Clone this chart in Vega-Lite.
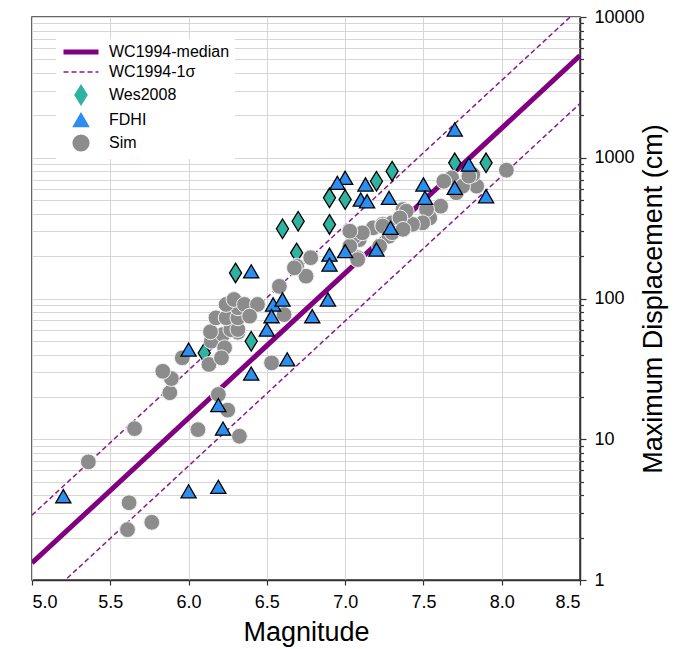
{
  "$schema": "https://vega.github.io/schema/vega-lite/v6.json",
  "width": 548,
  "height": 563,
  "autosize": {"type": "none"},
  "padding": {"left": 32, "top": 17, "right": 99, "bottom": 69},
  "background": "white",
  "config": {
    "font": "Liberation Sans",
    "view": {"stroke": "#333333", "strokeWidth": 1.5},
    "axis": {
      "gridColor": "#d6d6d6",
      "gridWidth": 1,
      "domainColor": "#333333",
      "domainWidth": 1.5,
      "tickColor": "#333333",
      "tickWidth": 1.2,
      "labelColor": "black",
      "titleColor": "black",
      "titleFontWeight": "normal",
      "labelFont": "Liberation Sans",
      "titleFont": "Liberation Sans"
    }
  },
  "datasets": {
    "lines": [
      {"series": "WC1994-median", "line": "median", "M": 5.0, "D": 1.32},
      {"series": "WC1994-median", "line": "median", "M": 8.5, "D": 5309},
      {"series": "WC1994-1σ", "line": "upper", "M": 5.0, "D": 2.89},
      {"series": "WC1994-1σ", "line": "upper", "M": 8.5, "D": 11614},
      {"series": "WC1994-1σ", "line": "lower", "M": 5.0, "D": 0.604},
      {"series": "WC1994-1σ", "line": "lower", "M": 8.5, "D": 2427}
    ],
    "pts": [
      {"series": "Wes2008", "M": 6.10, "D": 41},
      {"series": "Wes2008", "M": 6.30, "D": 152},
      {"series": "Wes2008", "M": 6.40, "D": 49.7},
      {"series": "Wes2008", "M": 6.60, "D": 313},
      {"series": "Wes2008", "M": 6.70, "D": 354},
      {"series": "Wes2008", "M": 6.69, "D": 211},
      {"series": "Wes2008", "M": 6.90, "D": 336},
      {"series": "Wes2008", "M": 6.90, "D": 519},
      {"series": "Wes2008", "M": 7.00, "D": 505},
      {"series": "Wes2008", "M": 7.20, "D": 681},
      {"series": "Wes2008", "M": 7.30, "D": 803},
      {"series": "Wes2008", "M": 7.70, "D": 920},
      {"series": "Wes2008", "M": 7.90, "D": 920},
      {"series": "Sim", "M": 5.36, "D": 6.9},
      {"series": "Sim", "M": 5.655, "D": 11.9},
      {"series": "Sim", "M": 5.62, "D": 3.54},
      {"series": "Sim", "M": 5.61, "D": 2.28},
      {"series": "Sim", "M": 5.765, "D": 2.57},
      {"series": "Sim", "M": 6.06, "D": 11.7},
      {"series": "Sim", "M": 6.325, "D": 10.5},
      {"series": "Sim", "M": 6.25, "D": 16.1},
      {"series": "Sim", "M": 6.19, "D": 20.8},
      {"series": "Sim", "M": 5.88, "D": 21.4},
      {"series": "Sim", "M": 5.89, "D": 27},
      {"series": "Sim", "M": 5.835, "D": 30.4},
      {"series": "Sim", "M": 5.96, "D": 37.9},
      {"series": "Sim", "M": 6.13, "D": 34},
      {"series": "Sim", "M": 6.145, "D": 49.7},
      {"series": "Sim", "M": 6.22, "D": 55.5},
      {"series": "Sim", "M": 6.23, "D": 44.7},
      {"series": "Sim", "M": 6.21, "D": 37.9},
      {"series": "Sim", "M": 6.315, "D": 57.6},
      {"series": "Sim", "M": 6.14, "D": 58},
      {"series": "Sim", "M": 6.27, "D": 60},
      {"series": "Sim", "M": 6.175, "D": 72.9},
      {"series": "Sim", "M": 6.24, "D": 72.9},
      {"series": "Sim", "M": 6.315, "D": 60.2},
      {"series": "Sim", "M": 6.315, "D": 72.9},
      {"series": "Sim", "M": 6.315, "D": 85.9},
      {"series": "Sim", "M": 6.24, "D": 90.7},
      {"series": "Sim", "M": 6.29, "D": 98.4},
      {"series": "Sim", "M": 6.357, "D": 90.7},
      {"series": "Sim", "M": 6.44, "D": 90.7},
      {"series": "Sim", "M": 6.39, "D": 74.9},
      {"series": "Sim", "M": 6.53, "D": 34.9},
      {"series": "Sim", "M": 6.58, "D": 122},
      {"series": "Sim", "M": 6.61, "D": 76.9},
      {"series": "Sim", "M": 6.69, "D": 170},
      {"series": "Sim", "M": 6.75, "D": 144},
      {"series": "Sim", "M": 6.78, "D": 195},
      {"series": "Sim", "M": 6.676, "D": 165},
      {"series": "Sim", "M": 7.09, "D": 262},
      {"series": "Sim", "M": 7.06, "D": 277},
      {"series": "Sim", "M": 7.08, "D": 195},
      {"series": "Sim", "M": 7.18, "D": 318},
      {"series": "Sim", "M": 7.24, "D": 336},
      {"series": "Sim", "M": 7.30, "D": 345},
      {"series": "Sim", "M": 7.37, "D": 429},
      {"series": "Sim", "M": 7.03, "D": 235},
      {"series": "Sim", "M": 8.03, "D": 816},
      {"series": "Sim", "M": 7.84, "D": 628},
      {"series": "Sim", "M": 7.815, "D": 760},
      {"series": "Sim", "M": 7.71, "D": 564},
      {"series": "Sim", "M": 7.68, "D": 720},
      {"series": "Sim", "M": 7.63, "D": 681},
      {"series": "Sim", "M": 7.61, "D": 453},
      {"series": "Sim", "M": 7.54, "D": 374},
      {"series": "Sim", "M": 7.52, "D": 429},
      {"series": "Sim", "M": 7.495, "D": 345},
      {"series": "Sim", "M": 7.43, "D": 336},
      {"series": "Sim", "M": 7.39, "D": 417},
      {"series": "Sim", "M": 7.35, "D": 374},
      {"series": "Sim", "M": 7.28, "D": 277},
      {"series": "Sim", "M": 7.24, "D": 327},
      {"series": "Sim", "M": 7.75, "D": 628},
      {"series": "Sim", "M": 7.79, "D": 740},
      {"series": "Sim", "M": 7.11, "D": 293},
      {"series": "Sim", "M": 7.03, "D": 301},
      {"series": "Sim", "M": 7.22, "D": 235},
      {"series": "Sim", "M": 7.30, "D": 293},
      {"series": "Sim", "M": 7.37, "D": 310},
      {"series": "Sim", "M": 7.08, "D": 189},
      {"series": "FDHI", "M": 5.20, "D": 3.94},
      {"series": "FDHI", "M": 6.00, "D": 4.27},
      {"series": "FDHI", "M": 6.19, "D": 4.59},
      {"series": "FDHI", "M": 6.22, "D": 11.9},
      {"series": "FDHI", "M": 6.19, "D": 17.5},
      {"series": "FDHI", "M": 6.00, "D": 43.4},
      {"series": "FDHI", "M": 6.40, "D": 29.3},
      {"series": "FDHI", "M": 6.40, "D": 156},
      {"series": "FDHI", "M": 6.50, "D": 60.2},
      {"series": "FDHI", "M": 6.54, "D": 90.7},
      {"series": "FDHI", "M": 6.53, "D": 74.9},
      {"series": "FDHI", "M": 6.60, "D": 98.4},
      {"series": "FDHI", "M": 6.63, "D": 37},
      {"series": "FDHI", "M": 6.79, "D": 74.9},
      {"series": "FDHI", "M": 6.89, "D": 98.4},
      {"series": "FDHI", "M": 6.90, "D": 205},
      {"series": "FDHI", "M": 6.90, "D": 174},
      {"series": "FDHI", "M": 7.00, "D": 217},
      {"series": "FDHI", "M": 7.00, "D": 721},
      {"series": "FDHI", "M": 6.95, "D": 664},
      {"series": "FDHI", "M": 7.10, "D": 505},
      {"series": "FDHI", "M": 7.14, "D": 491},
      {"series": "FDHI", "M": 7.13, "D": 646},
      {"series": "FDHI", "M": 7.28, "D": 519},
      {"series": "FDHI", "M": 7.20, "D": 223},
      {"series": "FDHI", "M": 7.29, "D": 318},
      {"series": "FDHI", "M": 7.70, "D": 1588},
      {"series": "FDHI", "M": 7.79, "D": 896},
      {"series": "FDHI", "M": 7.70, "D": 612},
      {"series": "FDHI", "M": 7.90, "D": 533},
      {"series": "FDHI", "M": 7.50, "D": 646},
      {"series": "FDHI", "M": 7.51, "D": 519}
    ]
  },
  "encoding": {
    "x": {
      "field": "M",
      "type": "quantitative",
      "scale": {"domain": [5, 8.5], "nice": false, "zero": false},
      "axis": {
        "title": "Magnitude",
        "values": [5, 5.5, 6, 6.5, 7, 7.5, 8, 8.5],
        "format": ".1f",
        "labelFontSize": 18,
        "titleFontSize": 27,
        "tickSize": 5,
        "labelPadding": 8,
        "titlePadding": 8
      }
    },
    "y": {
      "field": "D",
      "type": "quantitative",
      "scale": {"type": "log", "domain": [1, 10000], "nice": false},
      "axis": {
        "orient": "right",
        "title": "Maximum Displacement (cm)",
        "values": [1, 2, 3, 4, 5, 6, 7, 8, 9, 10, 20, 30, 40, 50, 60, 70, 80, 90, 100, 200, 300, 400, 500, 600, 700, 800, 900, 1000, 2000, 3000, 4000, 5000, 6000, 7000, 8000, 9000, 10000],
        "format": "d",
        "labelExpr": "indexof([1,10,100,1000,10000], datum.value) >= 0 ? datum.label : ''",
        "labelOverlap": false,
        "labelFontSize": 18,
        "titleFontSize": 27,
        "titleAngle": 270,
        "titleBaseline": "top",
        "tickSize": {"condition": {"test": "indexof([1,10,100,1000,10000], datum.value) >= 0", "value": 6}, "value": 3.5},
        "labelPadding": 8,
        "titlePadding": -4
      }
    },
    "color": {
      "field": "series",
      "type": "nominal",
      "scale": {
        "domain": ["WC1994-median", "WC1994-1σ", "Wes2008", "FDHI", "Sim"],
        "range": ["#800080", "#8a1a8a", "#2fb3a0", "#2b8ef0", "#8c8c8c"]
      },
      "legend": {
        "title": null,
        "orient": "none",
        "legendX": 24,
        "legendY": 22,
        "fillColor": "white",
        "padding": 5,
        "symbolOffset": 12,
        "labelFontSize": 16,
        "labelColor": "black",
        "symbolSize": 250,
        "labelOffset": 20,
        "rowPadding": 2,
        "symbolOpacity": 1,
        "symbolStrokeColor": "black",
        "symbolStrokeWidth": 1.3,
        "encode": {
          "symbols": {
            "update": {
              "shape": {"signal": "datum.value == 'Wes2008' ? 'M0,-1L0.62,0L0,1L-0.62,0Z' : datum.value == 'FDHI' ? 'triangle-up' : datum.value == 'Sim' ? 'circle' : 'stroke'"},
              "size": {"signal": "datum.value == 'Wes2008' ? 380 : datum.value == 'FDHI' ? 230 : datum.value == 'Sim' ? 250 : 1225"},
              "fill": {"signal": "datum.value == 'Wes2008' ? '#2fb3a0' : datum.value == 'FDHI' ? '#2b8ef0' : datum.value == 'Sim' ? '#8c8c8c' : 'transparent'"},
              "stroke": {"signal": "datum.value == 'Wes2008' || datum.value == 'FDHI' ? 'black' : datum.value == 'Sim' ? '#8c8c8c' : '#800080'"},
              "strokeWidth": {"signal": "datum.value == 'WC1994-median' ? 5 : 1.4"},
              "strokeDash": {"signal": "datum.value == 'WC1994-1σ' ? [5, 3] : []"},
              "opacity": {"value": 1}
            }
          }
        }
      }
    }
  },
  "layer": [
    {
      "data": {"name": "lines"},
      "transform": [{"filter": "datum.series == 'WC1994-median'"}],
      "mark": {"type": "line", "clip": true, "strokeWidth": 5}
    },
    {
      "data": {"name": "lines"},
      "transform": [{"filter": "datum.series == 'WC1994-1σ'"}],
      "mark": {"type": "line", "clip": true, "strokeWidth": 1.5, "strokeDash": [5, 3]},
      "encoding": {"detail": {"field": "line", "type": "nominal"}}
    },
    {
      "data": {"name": "pts"},
      "mark": {"type": "point", "filled": true, "opacity": 1, "clip": true},
      "encoding": {
        "shape": {
          "field": "series",
          "type": "nominal",
          "scale": {"domain": ["Wes2008", "FDHI", "Sim"], "range": ["M0,-1L0.62,0L0,1L-0.62,0Z", "triangle-up", "circle"]},
          "legend": null
        },
        "size": {
          "condition": [
            {"test": "datum.series == 'Wes2008'", "value": 380},
            {"test": "datum.series == 'FDHI'", "value": 230}
          ],
          "value": 250
        },
        "stroke": {
          "condition": {"test": "datum.series == 'Sim'", "value": "#f2f2f2"},
          "value": "black"
        },
        "strokeWidth": {
          "condition": {"test": "datum.series == 'Sim'", "value": 1},
          "value": 1.3
        }
      }
    }
  ]
}
